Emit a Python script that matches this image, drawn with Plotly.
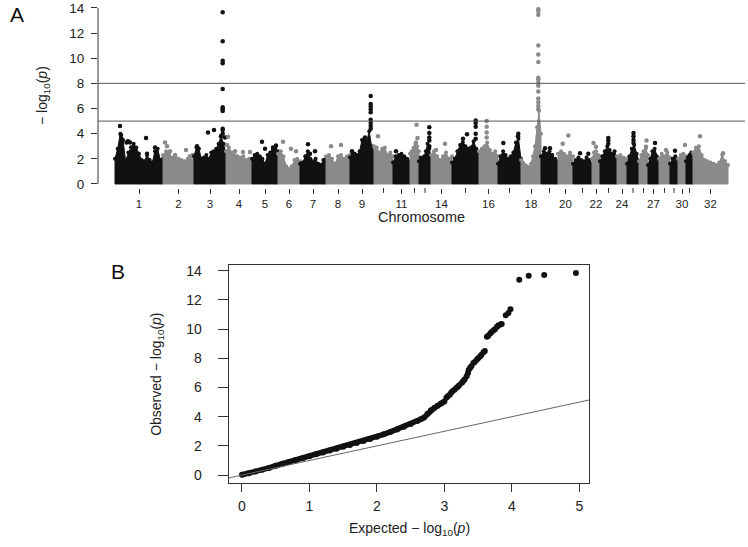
import plotly.graph_objects as go

# ---------------- data ----------------
CHROMS = list(range(1, 33))
# relative chromosome lengths on the genome axis
CHR_LEN = [48, 31, 32, 26, 26, 22, 26, 24, 24, 19, 17, 9, 12, 21, 27, 19,
           23, 20, 17, 15, 19, 8, 17, 10, 12, 9, 11, 11, 8, 8, 7, 35]
TICK_TEXT = ["1", "2", "3", "4", "5", "6", "7", "8", "9", "", "11", "", "", "14", "",
             "16", "", "18", "", "20", "", "22", "", "24", "", "", "27", "", "", "30", "", "32"]

# upper outline (-log10 p) of the dense SNP cloud, evenly spaced along each chromosome
ENV = {
    1: [2.0, 2.8, 4.0, 3.5, 1.8, 2.5, 2.9, 3.2, 2.9, 2.4, 1.9, 1.8, 2.3, 1.9, 1.7, 2.6, 2.8, 1.9, 2.0],
    2: [2.3, 2.6, 2.4, 2.1, 2.2, 2.0, 1.9, 1.8, 2.0, 1.9, 2.0],
    3: [2.2, 2.9, 2.8, 2.0, 2.1, 2.3, 2.0, 2.5, 2.6, 2.8, 3.2, 3.8, 3.2, 2.4],
    4: [2.6, 2.9, 2.5, 2.3, 2.2, 2.1, 2.2, 1.9, 2.0, 1.9],
    5: [2.0, 2.3, 2.4, 2.2, 2.0, 1.6, 2.3, 2.5, 2.7, 2.9, 2.6],
    6: [2.4, 2.6, 2.2, 1.4, 1.2, 1.4, 1.9, 2.0, 1.8],
    7: [1.6, 1.7, 2.2, 2.6, 2.0, 1.8, 2.0, 1.6, 1.5, 1.9, 2.0],
    8: [2.2, 2.3, 2.0, 1.6, 2.2, 2.3, 2.0, 2.2, 2.3],
    9: [2.1, 2.5, 2.4, 2.3, 2.6, 3.5, 3.6, 3.4, 4.2, 3.0, 2.6],
    10: [3.0, 2.9, 2.5, 2.8, 2.9, 2.3, 2.5, 2.2],
    11: [1.7, 2.2, 2.3, 2.4, 2.2, 2.0, 1.8],
    12: [2.4, 2.6, 2.9, 3.2, 3.0, 2.6],
    13: [1.8, 2.1, 2.0, 2.2, 2.6, 3.2, 2.8, 2.2],
    14: [2.3, 2.6, 2.2, 1.9, 2.2, 2.5, 2.0, 2.2],
    15: [1.7, 2.0, 2.6, 3.1, 3.3, 3.0, 2.8, 2.9, 3.4, 2.8, 2.3],
    16: [2.6, 2.8, 3.0, 3.3, 2.7, 2.4, 2.6, 2.2],
    17: [1.6, 2.2, 2.6, 2.3, 2.0, 2.2, 2.5, 3.3, 3.6, 2.0],
    18: [1.9, 1.7, 1.5, 1.4, 1.3, 1.6, 2.2, 3.0, 4.5, 5.8, 4.0],
    19: [2.2, 2.6, 2.4, 2.6, 2.3, 2.0, 1.8],
    20: [2.4, 2.6, 2.4, 2.2, 2.5, 2.2],
    21: [1.6, 1.9, 2.1, 1.9, 1.8, 2.1, 1.9, 1.6],
    22: [2.0, 2.5, 2.6, 2.3, 2.2],
    23: [1.8, 2.2, 2.6, 3.0, 2.7, 2.4, 2.6, 2.0],
    24: [2.2, 2.3, 2.1, 2.0],
    25: [1.6, 2.2, 2.8, 3.1, 2.4, 1.8],
    26: [1.8, 2.3, 2.6, 2.8, 2.3],
    27: [1.5, 2.0, 2.6, 2.8, 2.2, 1.8],
    28: [2.0, 2.4, 2.2, 2.5, 2.1],
    29: [1.6, 2.0, 2.2, 1.8],
    30: [2.0, 2.3, 2.4, 2.2],
    31: [1.8, 2.1, 2.3, 2.5, 2.0],
    32: [2.5, 2.9, 3.0, 2.3, 1.9, 1.8, 1.7, 1.6, 1.5, 1.7, 2.3, 1.8, 1.5],
}

# individual SNPs standing above the cloud: chromosome, position within chromosome, -log10 p
PEAK_CHR = [1, 1, 1, 1, 1, 1, 1, 1, 1, 1, 1,
            2, 2, 2, 2, 2, 2, 2,
            3, 3, 3, 3, 3, 3, 3, 3, 3, 3, 3, 3, 3, 3, 3, 3,
            4, 4, 4, 4, 4,
            5, 5, 5, 5,
            6, 6, 6,
            7, 7, 7,
            8, 8,
            9, 9, 9, 9, 9, 9, 9, 9, 9, 9, 9,
            10, 11,
            12, 12, 12,
            13, 13, 13, 13, 13,
            14, 14,
            15, 15, 15, 15, 15, 15, 15,
            16, 16, 16, 16,
            17, 17, 17,
            18, 18, 18, 18, 18, 18, 18, 18, 18, 18, 18, 18, 18, 18, 18,
            19, 19,
            20, 20,
            21, 21,
            22, 22,
            23, 23, 23,
            25, 25, 25, 25,
            26, 26,
            27, 28, 29, 30,
            32, 32]
PEAK_POS = [5, 6, 6.5, 11.5, 13, 15, 17, 31, 32, 40, 41,
            2, 4, 7, 12, 23, 27, 30,
            3, 14, 20, 28.7, 28.7, 28.7, 28.7, 28.7, 28.7, 28.7, 28.7, 28.7, 28.7, 28.7, 27, 31,
            2, 1, 9, 17, 24,
            10, 13, 24, 21,
            5, 13, 18,
            8, 15, 10,
            5, 15,
            2, 15, 20.7, 20.7, 20.7, 20.7, 20.7, 20.7, 20.7, 20.7, 20.7,
            4, 3,
            6.5, 7.5, 6,
            10.3, 10.3, 10.3, 10.3, 10.3,
            14, 5,
            23.7, 23.7, 23.7, 23.7, 23.7, 15, 11,
            7.7, 7.7, 7.7, 7.7,
            5.3, 20.3, 20,
            17.3, 17.3, 17.3, 17.3, 17.3, 17.3, 17.3, 17.3, 17.3, 17.3, 17.3, 17.3, 17.3, 17.3, 17.3,
            4, 9,
            10.3, 4.7,
            7, 15.3,
            1.5, 4,
            8.3, 8.3, 8.3,
            6.5, 6.5, 6.5, 6.5,
            7.5, 7,
            7, 7, 5, 7,
            7, 30]
PEAK_VAL = [4.6, 3.9, 3.6, 3.3, 3.4, 3.3, 2.9, 3.65, 2.4, 2.9, 2.4,
            3.3, 3.0, 2.6, 2.3, 2.7, 2.2, 2.3,
            3.0, 4.1, 4.3, 13.65, 11.35, 9.8, 9.6, 7.55, 6.1, 5.95, 5.8, 4.4, 4.3, 4.0, 3.8, 3.7,
            3.75, 3.1, 2.6, 2.55, 2.55,
            3.35, 2.8, 3.05, 2.9,
            3.35, 2.8, 2.6,
            3.15, 2.6, 2.4,
            3.0, 3.1,
            2.6, 3.7, 7.0, 6.35, 6.15, 5.95, 5.7, 5.1, 4.85, 4.6, 4.4,
            3.8, 2.6,
            4.7, 3.65, 3.3,
            4.5, 4.05, 3.7, 3.45, 3.0,
            3.2, 2.7,
            5.05, 4.85, 4.55, 4.0, 3.6, 3.95, 3.6,
            5.0, 4.55, 4.1, 3.7,
            3.25, 4.0, 3.8,
            13.9, 13.75, 13.45, 11.0, 10.3, 9.7, 8.45, 8.3, 8.05, 7.8, 7.35, 6.8, 6.5, 6.2, 5.95,
            2.85, 2.85,
            3.85, 3.2,
            2.45, 2.4,
            3.25, 2.95,
            3.65, 3.45, 3.2,
            4.05, 3.8, 3.5, 3.25,
            3.45, 2.95,
            3.25, 2.7, 2.65, 3.1,
            3.8, 2.45]

THRESHOLDS = [5, 8]

# QQ plot: expected vs observed -log10(p)
QQ_BAND_EXP = [0.0, 0.1, 0.2, 0.3, 0.4, 0.5, 0.6, 0.7, 0.8, 0.9, 1.0, 1.1, 1.2, 1.3, 1.4, 1.5,
               1.6, 1.7, 1.8, 1.9, 2.0, 2.1, 2.2, 2.3, 2.4, 2.5, 2.6, 2.65, 2.7, 2.75, 2.8,
               2.85, 2.9, 2.95, 3.0]
QQ_BAND_OBS = [0.02, 0.12, 0.24, 0.36, 0.49, 0.64, 0.77, 0.9, 1.03, 1.16, 1.29, 1.42, 1.55,
               1.68, 1.81, 1.94, 2.07, 2.2, 2.34, 2.48, 2.63, 2.79, 2.96, 3.13, 3.31, 3.5,
               3.7, 3.82, 3.95, 4.2, 4.45, 4.6, 4.75, 4.9, 5.05]
QQ_TOP_EXP = [3.03, 3.05, 3.08, 3.10, 3.12, 3.15, 3.18, 3.20, 3.22, 3.26, 3.28, 3.30, 3.33,
              3.35, 3.36, 3.38, 3.40, 3.43, 3.45, 3.48, 3.50, 3.53, 3.55, 3.58, 3.60, 3.63,
              3.65, 3.68, 3.70, 3.73, 3.75, 3.78, 3.80, 3.83, 3.85, 3.91, 3.95, 3.98, 4.11,
              4.25, 4.48, 4.95]
QQ_TOP_OBS = [5.3, 5.4, 5.5, 5.64, 5.75, 5.85, 5.99, 6.05, 6.15, 6.33, 6.45, 6.55, 6.77,
              7.0, 7.2, 7.34, 7.45, 7.68, 7.75, 7.9, 8.0, 8.13, 8.25, 8.42, 8.5, 9.48,
              9.55, 9.71, 9.8, 9.93, 10.0, 10.16, 10.25, 10.32, 10.35, 10.95, 11.1, 11.36,
              13.39, 13.66, 13.71, 13.84]

# ---------------- figure ----------------
BLACK = "#111111"
GRAY = "#8a8a8a"
FONT = "Liberation Sans, Arial, Helvetica, sans-serif"
W, H = 748, 547

fig = go.Figure()

starts = []
acc = 0.0
for L in CHR_LEN:
    starts.append(acc)
    acc += L
centers = [s + L / 2 for s, L in zip(starts, CHR_LEN)]

for i, ch in enumerate(CHROMS):
    col = BLACK if ch % 2 == 1 else GRAY
    env = ENV[ch]
    n = len(env)
    s, L = starts[i], CHR_LEN[i]
    xs = [s + L * k / (n - 1) for k in range(n)]
    px = [s] + xs + [s + L, s]
    py = [0] + env + [0, 0]
    fig.add_trace(go.Scatter(x=px, y=py, mode="lines", fill="toself", fillcolor=col,
                             line=dict(color=col, width=1), hoverinfo="skip",
                             showlegend=False, xaxis="x", yaxis="y"))
    fig.add_trace(go.Scatter(x=xs, y=env, mode="markers",
                             marker=dict(color=col, size=4), hoverinfo="skip",
                             showlegend=False, xaxis="x", yaxis="y"))
    px_, py_ = [], []
    for c, p, v in zip(PEAK_CHR, PEAK_POS, PEAK_VAL):
        if c == ch:
            px_.append(s + p)
            py_.append(v)
    if px_:
        fig.add_trace(go.Scatter(x=px_, y=py_, mode="markers", cliponaxis=False,
                                 marker=dict(color=col, size=4.5), hoverinfo="skip",
                                 showlegend=False, xaxis="x", yaxis="y"))

# QQ plot
fig.add_trace(go.Scatter(x=QQ_BAND_EXP, y=QQ_BAND_OBS, mode="lines+markers",
                         line=dict(color=BLACK, width=5.5),
                         marker=dict(color=BLACK, size=6),
                         showlegend=False, xaxis="x2", yaxis="y2"))
fig.add_trace(go.Scatter(x=QQ_TOP_EXP, y=QQ_TOP_OBS, mode="markers",
                         marker=dict(color=BLACK, size=6),
                         showlegend=False, xaxis="x2", yaxis="y2"))


def px2x(p):
    return p / W


def py2y(p):
    return 1 - p / H


# Panel A axes
xA0, xA1 = 98, 745
yA_bot, yA_top = 188, 1.5
labeled = [i for i, t in enumerate(TICK_TEXT) if t]
unlabeled = [i for i, t in enumerate(TICK_TEXT) if not t]

fig.update_layout(
    xaxis=dict(domain=[px2x(xA0), px2x(xA1)], range=[-17, 630], showgrid=False,
               zeroline=False, showline=False, ticks="outside", ticklen=5, tickwidth=1,
               tickcolor="#333", tickvals=[centers[i] for i in labeled],
               ticktext=[TICK_TEXT[i] for i in labeled],
               tickfont=dict(size=11.5, color="#222", family=FONT), anchor="y",
               ticklabelstandoff=0),
    yaxis=dict(domain=[py2y(yA_bot), py2y(yA_top)], range=[-0.315, 14.35], showgrid=False,
               zeroline=False, showline=False, ticks="outside", ticklen=6, tickwidth=1,
               tickcolor="#333", tickvals=list(range(0, 15, 2)),
               tickfont=dict(size=13.5, color="#222", family=FONT), anchor="x",
               ticklabelstandoff=4),
    xaxis2=dict(domain=[px2x(228.7), px2x(589)], range=[-0.197, 5.144], showgrid=False,
                zeroline=False, showline=True, mirror=True, linecolor="#333", linewidth=1,
                ticks="outside", ticklen=8, tickwidth=1, tickcolor="#333",
                tickvals=[0, 1, 2, 3, 4, 5],
                tickfont=dict(size=14, color="#222", family=FONT), anchor="y2",
                ticklabelstandoff=3),
    yaxis2=dict(domain=[py2y(486), py2y(265.7)], range=[-0.52, 14.41], showgrid=False,
                zeroline=False, showline=True, mirror=True, linecolor="#333", linewidth=1,
                ticks="outside", ticklen=10, tickwidth=1, tickcolor="#333",
                tickvals=list(range(0, 15, 2)),
                tickfont=dict(size=14, color="#222", family=FONT), anchor="x2",
                ticklabelstandoff=13),
)

dom_h = yA_bot - yA_top
shapes = [dict(type="line", xref="x domain", yref="y", x0=0, x1=0, y0=0, y1=14,
               line=dict(color="#333", width=1))]
for i in unlabeled:
    shapes.append(dict(type="line", xref="x", yref="y domain", x0=centers[i], x1=centers[i],
                       y0=0, y1=-5 / dom_h, line=dict(color="#333", width=1)))
for t in THRESHOLDS:
    shapes.append(dict(type="line", xref="x domain", yref="y", x0=0, x1=1, y0=t, y1=t,
                       line=dict(color="#555", width=1)))
shapes.append(dict(type="line", xref="x2", yref="y2", x0=-0.197, y0=-0.197,
                   x1=5.144, y1=5.144, line=dict(color="#666", width=1)))

annotations = [
    dict(text="A", x=px2x(8), y=py2y(13), xref="paper", yref="paper", xanchor="left",
         yanchor="middle", showarrow=False, font=dict(size=21, color="#111", family=FONT)),
    dict(text="B", x=px2x(109), y=py2y(272), xref="paper", yref="paper", xanchor="left",
         yanchor="middle", showarrow=False, font=dict(size=21, color="#111", family=FONT)),
    dict(text="− log<sub>10</sub>(<i>p</i>)", x=px2x(43), y=py2y(95), xref="paper",
         yref="paper", xanchor="center", yanchor="middle", textangle=-90, showarrow=False,
         font=dict(size=14, color="#222", family=FONT)),
    dict(text="Chromosome", x=px2x(421), y=py2y(217), xref="paper", yref="paper",
         xanchor="center", yanchor="middle", showarrow=False,
         font=dict(size=14.5, color="#222", family=FONT)),
    dict(text="Observed − log<sub>10</sub>(<i>p</i>)", x=px2x(157), y=py2y(377),
         xref="paper", yref="paper", xanchor="center", yanchor="middle", textangle=-90,
         showarrow=False, font=dict(size=14, color="#222", family=FONT)),
    dict(text="Expected − log<sub>10</sub>(<i>p</i>)", x=px2x(409), y=py2y(533),
         xref="paper", yref="paper", xanchor="center", yanchor="middle", showarrow=False,
         font=dict(size=14, color="#222", family=FONT)),
]

fig.update_layout(width=W, height=H, autosize=False,
                  margin=dict(l=0, r=0, t=0, b=0),
                  paper_bgcolor="white", plot_bgcolor="white",
                  shapes=shapes, annotations=annotations,
                  font=dict(family=FONT, color="#222"))

fig.write_html("out.html", config={"displayModeBar": False},
               post_script="document.body.style.margin='0px';")
